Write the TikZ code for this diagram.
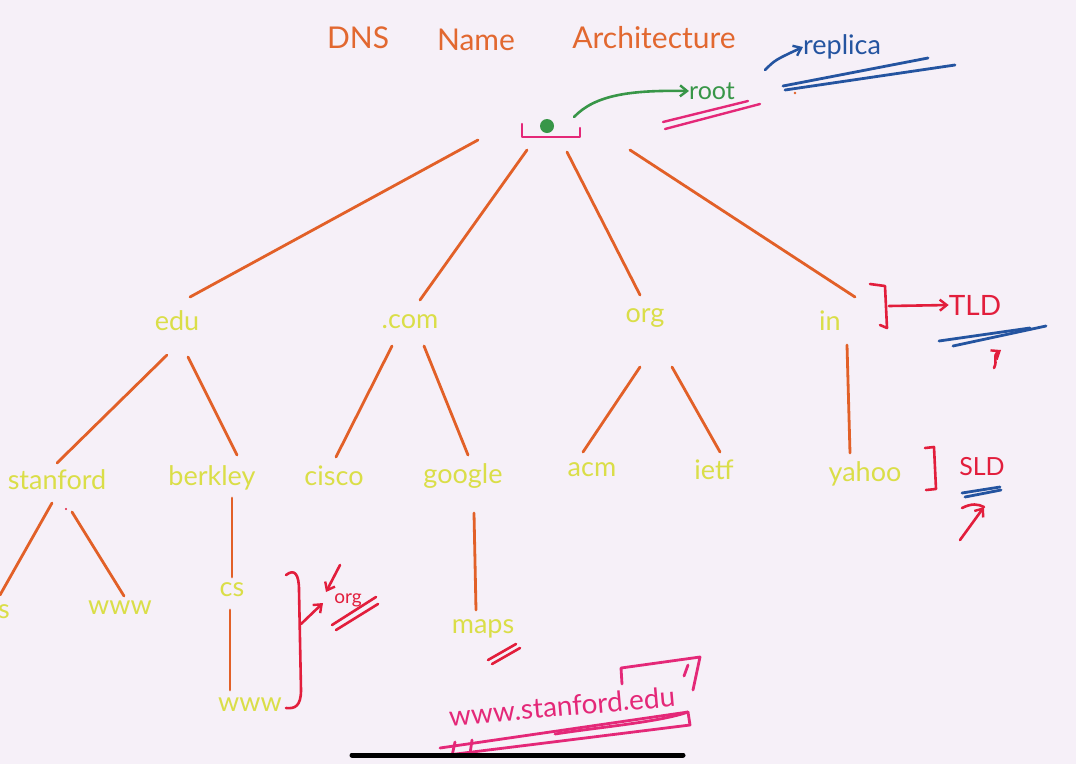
\documentclass[tikz,border=0pt]{standalone}
\usepackage{fontspec}
\setmainfont{Lato}
\usetikzlibrary{arrows.meta}
\definecolor{bg}{RGB}{246,240,248}
\definecolor{ttl}{RGB}{226,104,48}
\definecolor{edge}{RGB}{226,96,40}
\definecolor{lbl}{RGB}{218,222,72}
\definecolor{grn}{RGB}{56,150,72}
\definecolor{pnk}{RGB}{228,40,120}
\definecolor{blu}{RGB}{36,84,160}
\definecolor{rd}{RGB}{226,30,60}
\tikzset{
  lab/.style={text=lbl,font=\fontsize{27}{27}\selectfont,inner sep=0pt},
  ttlfont/.style={text=ttl,font=\fontsize{30}{30}\selectfont,inner sep=0pt},
  tree/.style={draw=edge,line width=2.8pt,line cap=round},
  redpen/.style={draw=rd,line width=2.6pt,line cap=round,line join=round},
  pinkpen/.style={draw=pnk,line width=2.8pt,line cap=round,line join=round},
  bluepen/.style={draw=blu,line width=2.8pt,line cap=round},
  barb/.style={-{Straight Barb[length=7pt,width=11pt,line width=2.4pt]}},
  note/.style={inner sep=0pt,font=\fontsize{25}{25}\selectfont},
}
\begin{document}
\begin{tikzpicture}[x=1pt,y=-1pt]
\fill[bg] (0,0) rectangle (1076,764);
\useasboundingbox (0,0) rectangle (1076,764);
% title
\node[ttlfont] (t1) at (358,38) {DNS};
\node[ttlfont] (t2) at (476,40) {Name};
\node[ttlfont] (t3) at (654,38) {Architecture};
% root
\node[circle,fill=grn,inner sep=0pt,minimum size=14pt] (root) at (547,126) {};
\draw[pinkpen,line width=2.4pt] (522,124) -- (522,137) -- (580,137) -- (580,128);
\node[note,text=grn] (rootlbl) at (712,91) {root};
\coordinate (ga) at (574,117);
\draw[grn,line width=2.6pt,line cap=round,barb] (ga) .. controls (595,95) and (630,90) .. (rootlbl.west);
\draw[pinkpen,line width=2.4pt] (663,122) -- (748,101);
\draw[pinkpen,line width=2.4pt] (665,129) -- (760,104);
\node[note,text=blu,font=\fontsize{27}{27}\selectfont] (replica) at (842,47) {replica};
\coordinate (rs) at (765,70);
\draw[blu,line width=2.6pt,line cap=round,barb] (rs) .. controls (775,60) .. (replica.west);
\draw[bluepen] (783,86) -- (928,58);
\draw[bluepen] (785,90) -- (955,65);
\fill[edge] (795,93) circle (1.3pt);
% level 1
\node[lab] (edu) at (177,321) {edu};
\node[lab] (com) at (410,322) {.com};
\node[lab] (org) at (645,318) {org};
\node[lab] (in) at (830,321) {in};
\draw[tree] (478,140) -- (190,297);
\draw[tree] (527,150) -- (420,300);
\draw[tree] (567,152) -- (640,295);
\draw[tree] (630,150) -- (855,297);
% level 2
\node[lab] (stanford) at (57,480) {stanford};
\node[lab] (berkley) at (212,478) {berkley};
\node[lab] (cisco) at (334,476) {cisco};
\node[lab] (google) at (463,476) {google};
\node[lab] (acm) at (592,470) {acm};
\node[lab] (ietf) at (714,470) {ietf};
\node[lab] (yahoo) at (865,474) {yahoo};
\draw[tree] (167,355) -- (57,463);
\draw[tree] (188,357) -- (237,455);
\draw[tree] (392,346) -- (336,457);
\draw[tree] (424,346) -- (468,455);
\draw[tree] (640,367) -- (583,452);
\draw[tree] (672,367) -- (720,452);
\draw[tree] (847,345) -- (850,453);
% level 3
\node[lab] (s) at (4,612) {s};
\node[lab] (www1) at (120,608) {www};
\node[lab] (cs) at (232,590) {cs};
\node[lab] (maps) at (483,629) {maps};
\node[lab] (www2) at (250,705) {www};
\draw[tree] (52,503) -- (0,595);
\draw[tree] (72,512) -- (124,596);
\fill[rd] (66,509) circle (1.2pt);
\draw[tree] (232,498) -- (232,577);
\draw[tree] (230,610) -- (230,690);
\draw[tree] (474,513) -- (476,610);
% red bracket cs/www
\draw[redpen] (286,575) .. controls (295,568) and (299,575) .. (299,590) -- (301,690) .. controls (301,706) and (295,709) .. (286,708);
\coordinate (oa) at (301,624);
\coordinate (ob) at (323,603);
\draw[redpen,barb] (oa) .. controls (310,615) .. (ob);
\coordinate (oc) at (340,565);
\coordinate (od) at (326,592);
\draw[redpen,barb] (oc) -- (od);
\node[note,text=rd,font=\fontsize{19}{19}\selectfont] (orgn) at (348,600) {org};
\draw[redpen] (332,625) -- (376,597);
\draw[redpen] (336,630) -- (378,604);
% maps strikes
\draw[redpen] (488,660) -- (516,644);
\draw[redpen] (492,664) -- (520,648);
% TLD
\draw[redpen] (870,284) -- (885,286) -- (887,328) -- (880,325);
\node[note,text=rd,font=\fontsize{28}{28}\selectfont] (tld) at (975,305) {TLD};
\coordinate (ta) at (889,306);
\draw[redpen,barb] (ta) -- (tld.west);
\draw[bluepen] (939,341) -- (1030,328);
\draw[bluepen] (953,346) -- (1046,326);
\coordinate (tb) at (994,368);
\coordinate (tc) at (1001,350);
\draw[redpen,barb] (tb) .. controls (998,360) and (992,356) .. (tc);
% SLD
\draw[redpen] (925,448) -- (934,447) -- (936,489) -- (926,490);
\node[note,text=rd,font=\fontsize{25}{25}\selectfont] (sld) at (982,467) {SLD};
\draw[bluepen] (962,493) -- (1000,487);
\draw[bluepen] (965,497) -- (1001,490);
\coordinate (sa) at (960,540);
\coordinate (sb) at (984,507);
\draw[redpen,barb] (sa) -- (sb);
\draw[redpen] (962,508) .. controls (972,503) and (978,504) .. (sb);
% bottom www.stanford.edu
\node[note,text=pnk,font=\fontsize{28}{28}\selectfont,rotate=5] (url) at (562,706) {www.stanford.edu};
\draw[pinkpen] (622,684) -- (621,668) -- (700,657) -- (693,690);
\draw[pinkpen] (684,676) -- (688,665);
\draw[pinkpen] (440,748) -- (688,712) -- (690,725) -- (448,755);
\draw[pinkpen] (555,734) .. controls (600,727) and (660,722) .. (688,712);
\draw[pinkpen] (455,742) -- (452,756);
\draw[pinkpen] (472,740) -- (470,754);
% home indicator
\draw[black,line width=5pt,line cap=round] (352,755) -- (683,755);
\end{tikzpicture}
\end{document}
